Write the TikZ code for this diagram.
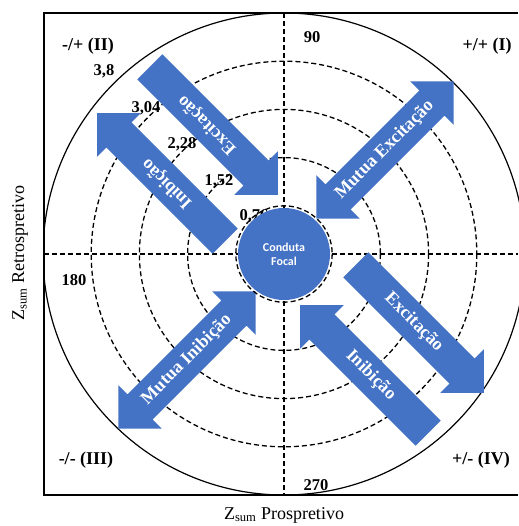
\documentclass[tikz,border=0pt]{standalone}
\usepackage{fontspec}
\setmainfont{Liberation Serif}
\newfontfamily\focalfont{Carlito}
\usepackage{xcolor}
\usetikzlibrary{shapes.arrows}
\definecolor{officeblue}{RGB}{68,114,196}

\begin{document}
\begin{tikzpicture}[x=1pt,y=-1pt,
	ring/.style={dash pattern=on 5pt off 3pt,line width=1.3pt},
	bigtext/.style={font=\fontsize{18}{20}\selectfont\bfseries},
	numtext/.style={font=\fontsize{16.5}{18}\selectfont\bfseries},
	arrowbody/.style={fill=officeblue,draw=none,text=white,
		font=\fontsize{18}{20}\selectfont\bfseries,
		text height=12pt,text depth=4pt,inner ysep=9.5pt,inner xsep=2pt},
	onearrow/.style={arrowbody,single arrow,single arrow head extend=13pt,minimum height=181pt},
	twoarrow/.style={arrowbody,double arrow,double arrow head extend=13pt,minimum height=194pt}]
	\useasboundingbox (0,0) rectangle (518,526);
	\coordinate (O) at (284,254);

	% cadre
	\draw[line width=1.5pt] (518,13)--(44,13)--(44,495)--(518,495);
	\begin{scope}
		\clip (44,13) rectangle (530,495);
		\draw[line width=1.2pt] (O) circle (241);
	\end{scope}

	% cercles 0,76 ... 3,04
	\draw[ring] (O) circle (192.8);
	\draw[ring] (O) circle (144.6);
	\draw[ring] (O) circle (96.4);
	\draw[ring] (44,254)--(518,254);
	\draw[ring] (284,13)--(284,495);

	% quadrants
	\node[bigtext] (qI) at (487,46) {+/+ (I)};
	\node[bigtext] (qII) at (88,46) {-/+ (II)};
	\node[bigtext] (qIII) at (86,460) {-/- (III)};
	\node[bigtext] (qIV) at (481,460) {+/- (IV)};

	% angles
	\node[numtext] (a90) at (312,37) {90};
	\node[numtext] (a180) at (74,280) {180};
	\node[numtext] (a270) at (316,485) {270};
	\node[numtext] (a0) at (523,270) {0};

	% raios
	\node[numtext] (r5) at (104,71) {3,8};
	\node[numtext] (r4) at (146,108) {3,04};
	\node[numtext] (r3) at (182,144) {2,28};
	\node[numtext] (r2) at (219,181) {1,52};
	\node[numtext] (r1) at (254,216) {0,76};

	% setas
	\coordinate (tipExcII) at (278,195);
	\coordinate (tipIniII) at (97,113);
	\coordinate (tipExcIV) at (484,393);
	\coordinate (tipIniIV) at (300,305);
	\coordinate (midMutExc) at (385,150);
	\coordinate (midMutIni) at (187,360);

	\node[onearrow,rotate=135,shape border rotate=180,anchor=tip] (excII) at (tipExcII) {Excitação};
	\node[onearrow,rotate=135,anchor=tip] (iniII) at (tipIniII) {Inibição};
	\node[onearrow,rotate=-45,anchor=tip] (excIV) at (tipExcIV) {Excitação};
	\node[onearrow,rotate=-45,shape border rotate=180,anchor=tip] (iniIV) at (tipIniIV) {Inibição};
	\node[twoarrow,rotate=45] (mutExc) at (midMutExc) {Mutua Excitação};
	\node[twoarrow,rotate=45] (mutIni) at (midMutIni) {Mutua Inibição};

	% conduta focal
	\node[circle,fill=officeblue,minimum size=92pt,inner sep=0pt,text=white,align=center,
		font=\focalfont\fontsize{12}{14}\selectfont\bfseries] (focal) at (O) {Conduta\\Focal};
	\draw[ring] (O) circle (48.2);

	% eixos
	\node[font=\fontsize{18}{20}\selectfont,rotate=90] (ylab) at (20,253) {Z\textsubscript{sum} Retrospretivo};
	\node[font=\fontsize{18}{20}\selectfont] (xlab) at (284,515) {Z\textsubscript{sum} Prospretivo};
\end{tikzpicture}
\end{document}
